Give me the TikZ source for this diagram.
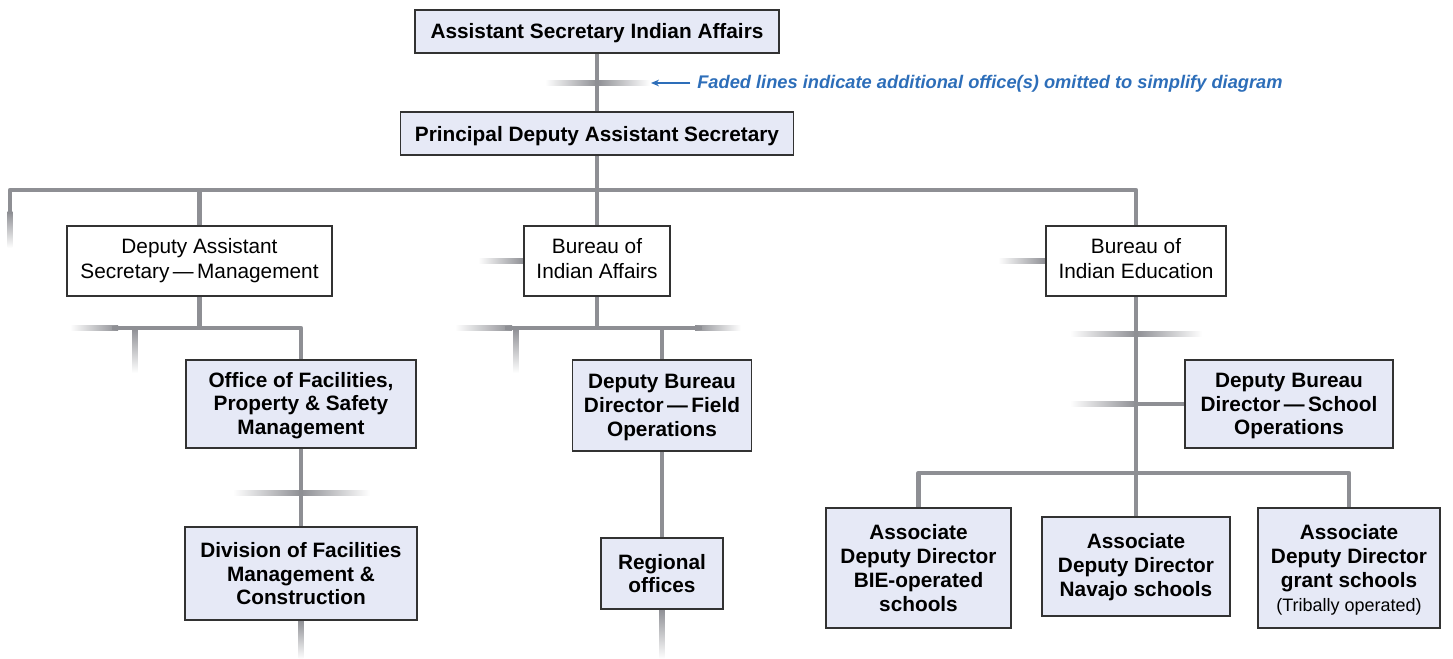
\documentclass[tikz,border=0pt]{standalone}
\usepackage{fontspec}
\setmainfont{Liberation Sans}
\usetikzlibrary{arrows.meta,backgrounds}
\definecolor{lg}{RGB}{142,143,148}
\definecolor{boxfill}{RGB}{230,233,246}
\definecolor{boxdraw}{RGB}{50,50,50}
\definecolor{noteblue}{RGB}{45,110,185}
\tikzset{
  box/.style={draw=boxdraw, line width=0.9pt, align=center, inner sep=0pt, text depth=0pt},
  boldbox/.style={box, fill=boxfill, font=\fontsize{15.6}{17.8}\selectfont\bfseries},
  plainbox/.style={box, fill=white, font=\fontsize{15.6}{18.7}\selectfont, text depth=3.5pt},
  conn/.style={draw=lg, line width=3.5pt, line join=round},
  notetext/.style={text=noteblue, font=\fontsize{13.7}{16}\selectfont\bfseries\itshape, inner sep=0pt, anchor=west},
  notearrow/.style={draw=noteblue, line width=0.9pt, -{Stealth[length=6pt,width=5pt]}},
}
\def\hw{2.35}
% horizontal fades: white at first x, grey at second x
\newcommand{\fadeLR}[3]{\shade[left color=white, right color=lg] (#1,#3-\hw) rectangle (#2,#3+\hw);}
\newcommand{\fadeRL}[3]{\shade[left color=lg, right color=white] (#1,#3-\hw) rectangle (#2,#3+\hw);}
\newcommand{\fadeDown}[3]{\shade[top color=lg, bottom color=white] (#1-\hw,#2) rectangle (#1+\hw,#3);}
\begin{document}
\begin{tikzpicture}[x=0.75pt, y=-0.75pt]
\useasboundingbox (0,0) rectangle (1453,659);

% nodes
\node[boldbox, minimum width=273pt, minimum height=32.25pt, text depth=1pt] (ASIA) at (597,31.5) {Assistant Secretary Indian Affairs};
\node[boldbox, minimum width=294.75pt, minimum height=32.25pt] (PDAS) at (597,133.5) {Principal Deputy Assistant Secretary};
\node[plainbox, minimum width=198.75pt, minimum height=52.5pt] (DASM) at (199.5,261) {Deputy Assistant\\Secretary\,—\,Management};
\node[plainbox, minimum width=109.5pt, minimum height=52.5pt] (BIA) at (597,261) {Bureau of\\Indian Affairs};
\node[plainbox, minimum width=135pt, minimum height=52.5pt] (BIE) at (1136,261) {Bureau of\\Indian Education};
\node[boldbox, minimum width=172.5pt, minimum height=66pt, text depth=1.2pt] (OFPSM) at (301,404) {Office of Facilities,\\Property \& Safety\\Management};
\node[boldbox, minimum width=134.25pt, minimum height=68.25pt] (DBDFO) at (662,405.5) {Deputy Bureau\\Director\,—\,Field\\Operations};
\node[boldbox, minimum width=156pt, minimum height=66pt] (DBDSO) at (1289,404) {Deputy Bureau\\Director\,—\,School\\Operations};
\node[boldbox, minimum width=174pt, minimum height=69.75pt] (DFMC) at (301,573.5) {Division of Facilities\\Management \&\\Construction};
\node[boldbox, minimum width=91.5pt, minimum height=53.25pt] (RO) at (662,573.5) {Regional\\offices};
\node[boldbox, minimum width=138.75pt, minimum height=90pt] (ADDa) at (918.5,568) {Associate\\Deputy Director\\BIE-operated\\schools};
\node[boldbox, minimum width=141pt, minimum height=74.25pt, text depth=2pt] (ADDb) at (1136,566.5) {Associate\\Deputy Director\\Navajo schools};
\node[boldbox, minimum width=136.5pt, minimum height=90pt] (ADDc) at (1349,568) {Associate\\Deputy Director\\grant schools\\{\fontsize{13.5}{18.6}\selectfont\mdseries (Tribally operated)}};

% note
\node[notetext] (note) at (697,84) {Faded lines indicate additional office(s) omitted to simplify diagram};
\coordinate (noteTip) at (651,83);
\draw[notearrow] ([xshift=-5pt]note.west |- noteTip) -- (noteTip);

% junction coordinates
\coordinate (hL) at (10,214);
\coordinate (hBar) at (0,190);
\coordinate (dL) at (112,328);
\coordinate (bL) at (505,328);
\coordinate (bR) at (702,328);
\coordinate (eBar) at (0,473);

\begin{scope}[on background layer]
  % faded stubs
  \fadeLR{545}{597}{83}
  \fadeRL{597}{650}{83}
  \fadeDown{10}{212}{248}
  \fadeLR{478}{524}{261}
  \fadeLR{998}{1046}{261}
  \fadeLR{70}{118}{328}
  \fadeDown{135}{328}{373}
  \fadeLR{455}{512}{328}
  \fadeRL{695}{741}{328}
  \fadeDown{516}{328}{373}
  \fadeLR{1070}{1136}{334}
  \fadeRL{1136}{1202}{334}
  \fadeLR{1070}{1136}{404}
  \fadeLR{233}{301}{493}
  \fadeRL{301}{370}{493}
  \fadeDown{301}{620}{659}
  \fadeDown{662}{609}{659}

  % connectors
  \draw[conn] (ASIA.south) -- (PDAS.north);
  \draw[conn] (PDAS.south) -- (BIA.north);
  \draw[conn] (hL) |- (BIE.north |- hBar) -- (BIE.north);
  \draw[conn] (DASM.north |- hBar) -- (DASM.north);
  \draw[conn] (DASM.south) -- (DASM.south |- dL);
  \draw[conn] (dL) -| (OFPSM.north);
  \draw[conn] (OFPSM.south) -- (DFMC.north);
  \draw[conn] (BIA.south) -- (BIA.south |- bL);
  \draw[conn] (bL) -- (bR);
  \draw[conn] (DBDFO.north |- bL) -- (DBDFO.north);
  \draw[conn] (DBDFO.south) -- (RO.north);
  \draw[conn] (BIE.south) -- (ADDb.north);
  \draw[conn] (BIE.south |- DBDSO.west) -- (DBDSO.west);
  \draw[conn] (ADDa.north) |- (ADDc.north |- eBar) -- (ADDc.north);
\end{scope}
\end{tikzpicture}
\end{document}
